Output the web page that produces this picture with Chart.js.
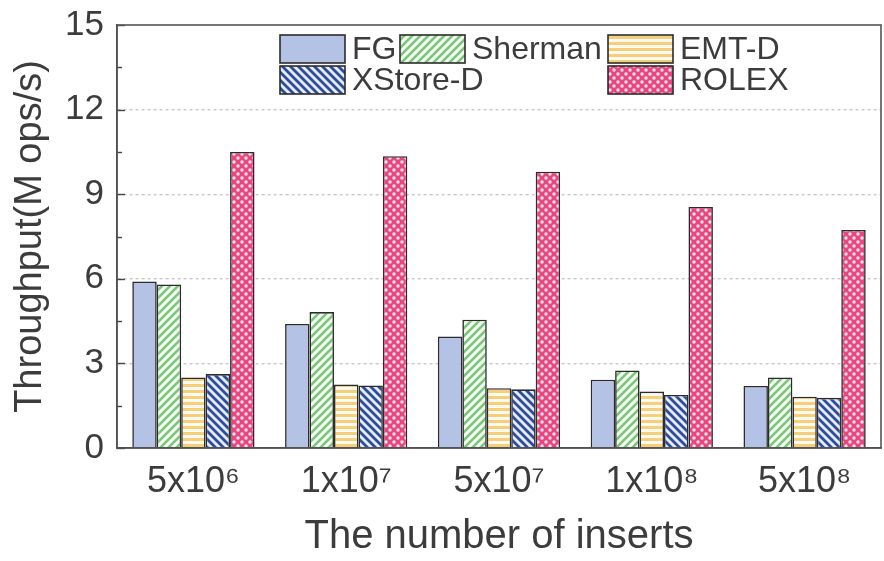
<!DOCTYPE html>
<html><head><meta charset="utf-8">
<script src="https://cdn.jsdelivr.net/npm/chart.js@4.4.0/dist/chart.umd.min.js"></script>
<style>html,body{margin:0;padding:0;background:#fff}canvas{display:block}</style>
</head><body>
<canvas id="c" width="884" height="561"></canvas>
<script>
// ---- data ----
const categories = ['5x10\u2076', '1x10\u2077', '5x10\u2077', '1x10\u2078', '5x10\u2078'];
const seriesNames = ['FG', 'Sherman', 'EMT-D', 'XStore-D', 'ROLEX'];
const fgValues      = [5.9, 4.4, 3.95, 2.42, 2.2];
const shermanValues = [5.8, 4.82, 4.55, 2.75, 2.5];
const emtdValues    = [2.5, 2.25, 2.12, 2.0, 1.82];
const xstoreValues  = [2.62, 2.22, 2.08, 1.88, 1.78];
const rolexValues   = [10.5, 10.35, 9.8, 8.55, 7.73];
const yTickValues   = [0, 3, 6, 9, 12, 15];
const yMinorStep = 1.5;

// ---- styling ----
const FONT = "'Liberation Sans', Arial, sans-serif";
const TEXT = '#3c3c3c';
const EDGE = '#2b2b2b';

function makePattern(size, draw) {
  const c = document.createElement('canvas');
  c.width = size; c.height = size;
  const x = c.getContext('2d');
  draw(x, size);
  return x.createPattern(c, 'repeat');
}
const patFG = '#b4c2e6';
const patSherman = makePattern(8, (x, s) => {
  x.fillStyle = '#f2faef'; x.fillRect(0, 0, s, s);
  x.strokeStyle = '#7cc57c'; x.lineWidth = 2.6; x.lineCap = 'square';
  x.beginPath();
  x.moveTo(0, s); x.lineTo(s, 0);
  x.moveTo(-2, 2); x.lineTo(2, -2);
  x.moveTo(s - 2, s + 2); x.lineTo(s + 2, s - 2);
  x.stroke();
});
const patEMT = makePattern(6, (x, s) => {
  x.fillStyle = '#fffaf0'; x.fillRect(0, 0, s, s);
  x.fillStyle = '#f6cf7a'; x.fillRect(0, 0, s, 3);
});
const patXStore = makePattern(8, (x, s) => {
  x.fillStyle = '#e4ecfb'; x.fillRect(0, 0, s, s);
  x.strokeStyle = '#2f4c9c'; x.lineWidth = 2.8; x.lineCap = 'square';
  x.beginPath();
  x.moveTo(0, 0); x.lineTo(s, s);
  x.moveTo(-2, s - 2); x.lineTo(2, s + 2);
  x.moveTo(s - 2, -2); x.lineTo(s + 2, 2);
  x.stroke();
});
const patRolex = makePattern(8, (x, s) => {
  x.fillStyle = '#e8467e'; x.fillRect(0, 0, s, s);
  x.fillStyle = '#ffe4ee';
  x.beginPath(); x.arc(2, 2, 1.7, 0, Math.PI * 2); x.fill();
  x.beginPath(); x.arc(6, 6, 1.7, 0, Math.PI * 2); x.fill();
});
const fills = [patFG, patSherman, patEMT, patXStore, patRolex];
const seriesValues = [fgValues, shermanValues, emtdValues, xstoreValues, rolexValues];

const datasets = seriesNames.map((n, i) => ({
  label: n,
  data: seriesValues[i],
  backgroundColor: fills[i],
  borderColor: EDGE,
  borderWidth: 1.6,
  borderSkipped: 'bottom',
  barPercentage: 1.0,
  categoryPercentage: 0.8
}));

// legend slots (layout only): [col, row]
const legendSlots = [[0, 0], [1, 0], [2, 0], [0, 1], [2, 1]];

const framePlugin = {
  id: 'frame',
  afterDatasetsDraw(chart) {
    const { ctx, chartArea: a, scales } = chart;
    ctx.save();
    const y = scales.y;
    ctx.strokeStyle = '#444'; ctx.lineWidth = 1.4;
    for (let v = 0; v <= 15 + 1e-6; v += yMinorStep) {
      const py = Math.round(y.getPixelForValue(v)) + 0.5;
      const major = Math.abs(v / 3 - Math.round(v / 3)) < 1e-6;
      const len = major ? 8 : 5;
      ctx.beginPath(); ctx.moveTo(a.left, py); ctx.lineTo(a.left + len, py); ctx.stroke();
    }
    ctx.strokeStyle = '#555'; ctx.lineWidth = 1.6;
    ctx.strokeRect(a.left, a.top, a.right - a.left, a.bottom - a.top);
    ctx.restore();
  },
  afterDraw(chart) {
    const { ctx } = chart;
    const colX = [280, 400, 608], rowY = [35, 66];
    const bw = 65, bh = 28;
    ctx.save();
    ctx.font = '32px ' + FONT;
    ctx.textBaseline = 'middle';
    chart.data.datasets.forEach((ds, i) => {
      const [c, r] = legendSlots[i];
      const x = colX[c], yy = rowY[r];
      ctx.fillStyle = ds.backgroundColor;
      ctx.fillRect(x, yy, bw, bh);
      ctx.strokeStyle = EDGE; ctx.lineWidth = 1.6;
      ctx.strokeRect(x, yy, bw, bh);
      ctx.fillStyle = TEXT;
      ctx.fillText(ds.label, x + bw + 7, yy + bh / 2 + 1);
    });
    ctx.restore();
  }
};

new Chart(document.getElementById('c'), {
  type: 'bar',
  data: { labels: categories, datasets },
  options: {
    responsive: false,
    devicePixelRatio: 1,
    animation: false,
    layout: { padding: { top: 25, right: 3, bottom: 0, left: 0 } },
    plugins: { legend: { display: false }, tooltip: { enabled: false } },
    scales: {
      x: {
        grid: { display: false, drawTicks: false },
        border: { display: true, color: '#444', width: 1.6 },
        ticks: { color: TEXT, font: { family: FONT, size: 36 }, padding: 12, maxRotation: 0 },
        title: { display: true, text: 'The number of inserts', color: TEXT, font: { family: FONT, size: 40 }, padding: { top: 2, bottom: 0 } },
        afterFit(s) { s.height = 113; s.paddingLeft = 0; s.paddingRight = 0; }
      },
      y: {
        min: 0, max: 15,
        afterBuildTicks(s) { s.ticks = yTickValues.map(v => ({ value: v })); },
        grid: {
          drawTicks: false,
          color: c => (c.tick && (c.tick.value === 0 || c.tick.value === 15)) ? 'rgba(0,0,0,0)' : '#c8c8c8',
          lineWidth: 1.4
        },
        border: { display: true, color: '#444', width: 1.6, dash: [3, 3] },
        ticks: { color: TEXT, font: { family: FONT, size: 35 }, padding: 13 },
        title: { display: true, text: 'Throughput(M ops/s)', color: TEXT, font: { family: FONT, size: 38 }, padding: { top: 8, bottom: 0 } },
        afterFit(s) { s.width = 117; s.paddingTop = 0; s.paddingBottom = 0; }
      }
    }
  },
  plugins: [framePlugin]
});
</script>
</body></html>
